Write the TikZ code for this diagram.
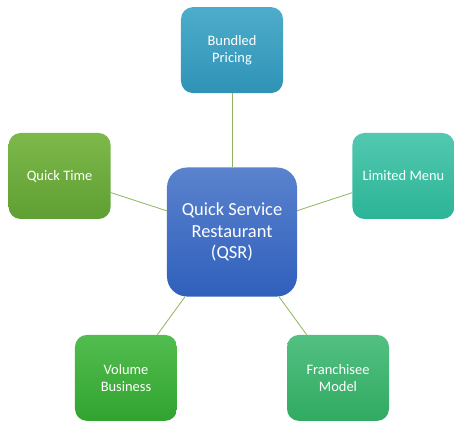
\documentclass[tikz,border=0pt]{standalone}
\usepackage{fontspec}
\setmainfont{Carlito}
\usepackage{xcolor}
\usetikzlibrary{positioning,shadings}
\definecolor{pricingtop}{HTML}{4EACCB}
\definecolor{pricingbot}{HTML}{2F93B6}
\definecolor{timetop}{HTML}{7DB84A}
\definecolor{timebot}{HTML}{5F9F33}
\definecolor{menutop}{HTML}{52C8B0}
\definecolor{menubot}{HTML}{2CB497}
\definecolor{volumetop}{HTML}{52BD4F}
\definecolor{volumebot}{HTML}{31A32F}
\definecolor{franchtop}{HTML}{52C082}
\definecolor{franchbot}{HTML}{31AA62}
\definecolor{hubtop}{HTML}{5A82CD}
\definecolor{hubbot}{HTML}{3060BC}
\definecolor{spokeline}{HTML}{8FB35E}
\tikzset{
  qsr hub/.style={rectangle, rounded corners=20bp, align=center, text=white, minimum width=130bp, minimum height=129bp, inner sep=2pt, font=\fontsize{18.5}{21.5}\selectfont, top color=hubtop, bottom color=hubbot},
  qsr spoke/.style={rectangle, rounded corners=12bp, align=center, text=white, minimum width=102bp, minimum height=86bp, inner sep=2pt, font=\fontsize{14.5}{17}\selectfont},
  qsr link/.style={draw=spokeline, line width=0.8bp}
}

\begin{document}
\begin{tikzpicture}
    \useasboundingbox (-232bp,-198bp) rectangle (234bp,232bp);
    % Centre
    \node [qsr hub] (QSR) at (0,0) {Quick Service\\Restaurant\\(QSR)};

    % Spokes
    \node [qsr spoke, top color=pricingtop, bottom color=pricingbot, above=74bp of QSR] (Pricing) {Bundled\\Pricing};
    \node [qsr spoke, top color=timetop, bottom color=timebot, left=56bp of QSR, yshift=56bp] (Time) {Quick Time};
    \node [qsr spoke, top color=menutop, bottom color=menubot, right=55bp of QSR, yshift=56bp] (Menu) {Limited Menu};
    \node [qsr spoke, top color=volumetop, bottom color=volumebot, below=38bp of QSR, xshift=-106bp] (Volume) {Volume\\Business};
    \node [qsr spoke, top color=franchtop, bottom color=franchbot, below=38bp of QSR, xshift=106bp] (Franchise) {Franchisee\\Model};

    % Links
    \foreach \spoke in {Pricing,Time,Menu,Volume,Franchise}
        \draw [qsr link] (QSR) -- (\spoke);
\end{tikzpicture}
\end{document}
